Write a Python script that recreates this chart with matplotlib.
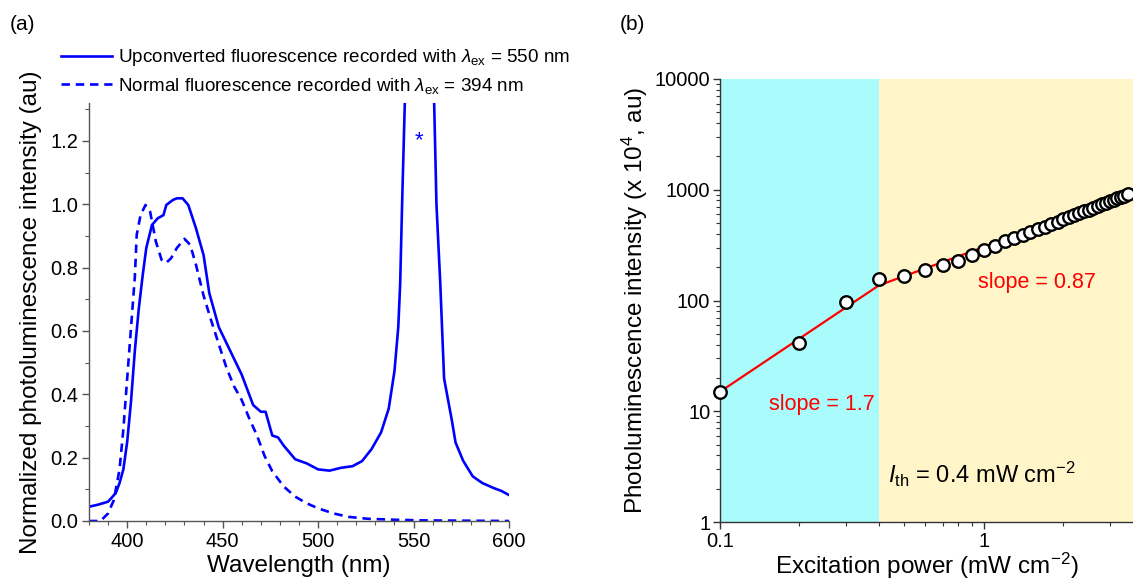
import matplotlib
matplotlib.use("Agg")
import matplotlib.pyplot as plt
from matplotlib.lines import Line2D
from matplotlib.ticker import LogLocator, NullFormatter, MultipleLocator, FormatStrFormatter

plt.rcParams['font.family'] = ['Liberation Sans', 'DejaVu Sans']
plt.rcParams['mathtext.fontset'] = 'custom'
plt.rcParams['mathtext.rm'] = 'Liberation Sans'
plt.rcParams['mathtext.it'] = 'Liberation Sans:italic'
plt.rcParams['mathtext.bf'] = 'Liberation Sans:bold'

# ---------------- Panel (a) data ----------------
up_wl = [380, 385, 390, 394, 396, 398, 400, 402, 404, 406, 408, 410, 413, 416, 419, 420.5,
         424, 426, 429, 432, 436, 440, 443, 448, 454, 460, 466, 470, 472.5, 476, 479, 482,
         488, 494, 500, 506, 512, 518, 523, 528, 533, 537, 540, 542, 543, 544, 546, 548,
         553, 558, 560.5, 562, 564, 566, 570, 572, 576, 581, 586, 592, 596, 600]
up_int = [0.045, 0.052, 0.061, 0.088, 0.12, 0.163, 0.25, 0.377, 0.537, 0.666, 0.77, 0.862,
          0.935, 0.956, 0.966, 0.998, 1.014, 1.019, 1.019, 0.998, 0.925, 0.84, 0.72, 0.612,
          0.537, 0.462, 0.366, 0.345, 0.345, 0.27, 0.264, 0.238, 0.195, 0.182, 0.163, 0.159,
          0.168, 0.173, 0.189, 0.227, 0.28, 0.355, 0.473, 0.612, 0.75, 1.0, 1.45, 2.0,
          3.0, 2.0, 1.4, 1.0, 0.75, 0.45, 0.32, 0.248, 0.19, 0.141, 0.12, 0.104, 0.095, 0.082]

nf_wl = [380, 386, 390, 393, 396, 398, 400, 402, 404, 405, 407, 409.6, 412, 415, 418, 420.4,
         423, 426, 430, 433, 436, 440, 444, 448, 452, 456, 460, 464, 468, 472, 476, 482,
         488, 494, 500, 508, 516, 526, 540, 554, 600]
nf_int = [0.0, 0.0, 0.024, 0.066, 0.163, 0.29, 0.45, 0.61, 0.77, 0.904, 0.966, 0.998, 0.977,
          0.883, 0.825, 0.815, 0.83, 0.862, 0.891, 0.872, 0.81, 0.712, 0.633, 0.558, 0.484,
          0.425, 0.382, 0.323, 0.27, 0.205, 0.157, 0.109, 0.077, 0.056, 0.04, 0.024, 0.013,
          0.007, 0.004, 0.002, 0.0]

label_up = r'Upconverted fluorescence recorded with $\lambda_{\mathrm{ex}}$ = 550 nm'
label_nf = r'Normal fluorescence recorded with $\lambda_{\mathrm{ex}}$ = 394 nm'

# ---------------- Panel (b) data ----------------
power = [0.1, 0.2, 0.3, 0.4, 0.5, 0.6, 0.7, 0.8, 0.9, 1.0, 1.1, 1.2, 1.3, 1.4, 1.5, 1.6,
         1.7, 1.8, 1.9, 2.0, 2.1, 2.2, 2.3, 2.4, 2.5, 2.6, 2.7, 2.8, 2.9, 3.0, 3.1, 3.2,
         3.3, 3.4, 3.5]
pl = [15, 41, 96, 157, 168, 190, 211, 229, 259, 286, 313, 342, 364, 388, 414, 440,
      463, 490, 516, 540, 567, 590, 617, 641, 663, 690, 716, 738, 765, 787, 814, 836,
      862, 884, 908]
fit_low_x = [0.1, 0.4]
fit_low_y = [15, 137]
fit_high_x = [0.4, 3.5]
fit_high_y = [137, 905]
threshold = 0.4

BLUE = '#0000FF'
RED = '#FF0000'
TICK_FS = 14.5
LABEL_FS = 17.5

fig = plt.figure(figsize=(11.33, 5.79), dpi=100)

# ---------------- Panel (a) ----------------
ax1 = fig.add_axes([89/1133, 1-521/579, 420/1133, 418/579])
ax1.plot(up_wl, up_int, color=BLUE, lw=1.9, solid_joinstyle='round')
ax1.plot(nf_wl, nf_int, color=BLUE, lw=1.9, ls=(0, (3.2, 2.2)))
ax1.set_xlim(380, 600)
ax1.set_ylim(0, 1.32)
ax1.xaxis.set_major_locator(MultipleLocator(50))
ax1.xaxis.set_minor_locator(MultipleLocator(10))
ax1.yaxis.set_major_locator(MultipleLocator(0.2))
ax1.yaxis.set_minor_locator(MultipleLocator(0.1))
ax1.yaxis.set_major_formatter(FormatStrFormatter('%.1f'))
for s in ['top', 'right']:
    ax1.spines[s].set_visible(False)
for s in ['left', 'bottom']:
    ax1.spines[s].set_color('#555555')
    ax1.spines[s].set_linewidth(1.0)
ax1.tick_params(which='major', direction='out', length=5, width=1, labelsize=TICK_FS,
                colors='#555555', labelcolor='black', pad=3)
ax1.tick_params(which='minor', direction='out', length=3, width=0.8, colors='#555555')
ax1.set_xlabel('Wavelength (nm)', fontsize=LABEL_FS, labelpad=3)
ax1.set_ylabel('Normalized photoluminescence intensity (au)', fontsize=LABEL_FS, labelpad=6)
ax1.text(553, 1.2, '*', color=BLUE, fontsize=16, ha='center', va='center')

handles = [Line2D([], [], color=BLUE, lw=1.9),
           Line2D([], [], color=BLUE, lw=1.9, ls=(0, (3.2, 2.2)))]
ax1.legend(handles, [label_up, label_nf], loc='upper left', bbox_to_anchor=(-0.066, 1.133),
           frameon=False, fontsize=13.6, handlelength=2.7, handletextpad=0.3,
           labelspacing=0.4, borderpad=0, borderaxespad=0)

fig.text(10/1133, 1-25/579, '(a)', fontsize=15, ha='left', va='center')

# ---------------- Panel (b) ----------------
ax2 = fig.add_axes([720/1133, 1-522/579, 413/1133, 443/579])
ax2.set_xscale('log')
ax2.set_yscale('log')
ax2.set_xlim(0.1, 3.67)
ax2.set_ylim(1, 10000)
ax2.axvspan(0.1, threshold, color='#AAFCFC', lw=0, zorder=0)
ax2.axvspan(threshold, 3.67, color='#FFF5C8', lw=0, zorder=0)
ax2.plot(fit_low_x, fit_low_y, color=RED, lw=1.6, zorder=2)
ax2.plot(fit_high_x, fit_high_y, color=RED, lw=1.6, zorder=2)
ax2.plot(power, pl, ls='none', marker='o', ms=9, mfc='white', mec='black', mew=1.7,
         zorder=3, clip_on=False)
ax2.set_xticks([0.1, 1])
ax2.set_xticklabels(['0.1', '1'])
ax2.xaxis.set_minor_locator(LogLocator(base=10, subs=range(2, 10)))
ax2.xaxis.set_minor_formatter(NullFormatter())
ax2.set_yticks([1, 10, 100, 1000, 10000])
ax2.set_yticklabels(['1', '10', '100', '1000', '10000'])
ax2.yaxis.set_minor_locator(LogLocator(base=10, subs=range(2, 10)))
ax2.yaxis.set_minor_formatter(NullFormatter())
for s in ['top', 'right']:
    ax2.spines[s].set_visible(False)
for s in ['left', 'bottom']:
    ax2.spines[s].set_color('#333333')
    ax2.spines[s].set_linewidth(1.0)
ax2.tick_params(which='major', direction='out', length=5, width=1, labelsize=TICK_FS,
                colors='#333333', labelcolor='black', pad=2)
ax2.tick_params(which='minor', direction='out', length=3, width=0.8, colors='#333333')
ax2.set_xlabel(r'Excitation power (mW cm$^{-2}$)', fontsize=LABEL_FS, labelpad=0)
ax2.set_ylabel(r'Photoluminescence intensity (x 10$^{4}$, au)', fontsize=LABEL_FS, labelpad=3)
ax2.text(0.153, 11.5, 'slope = 1.7', color=RED, fontsize=15.5, ha='left', va='center')
ax2.text(0.95, 145, 'slope = 0.87', color=RED, fontsize=15.5, ha='left', va='center')
ax2.text(0.433, 2.66, r'$I_{\mathrm{th}}$ = 0.4 mW cm$^{-2}$', color='black', fontsize=17,
         ha='left', va='center')

fig.text(620/1133, 1-25/579, '(b)', fontsize=15, ha='left', va='center')

fig.savefig('out.png', dpi=100)
